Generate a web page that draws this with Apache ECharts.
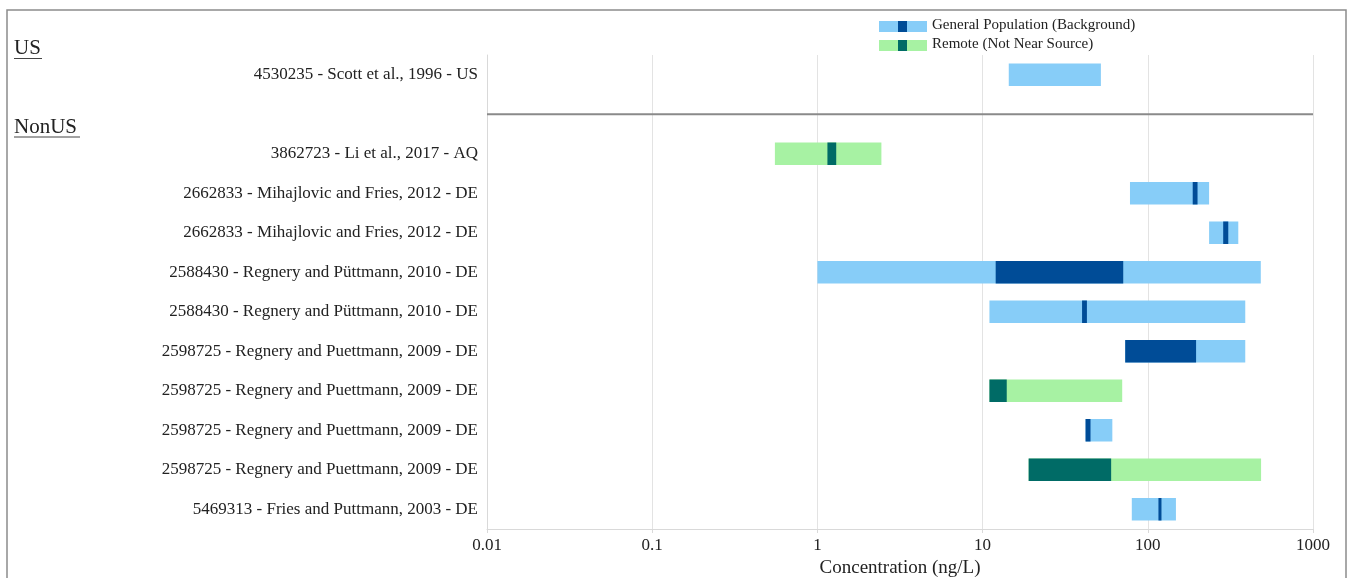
<!DOCTYPE html>
<html>
<head>
<meta charset="utf-8">
<style>
  html, body { margin: 0; padding: 0; background: #ffffff; }
  #chart { width: 1351px; height: 578px; }
</style>
<script src="https://cdn.jsdelivr.net/npm/echarts@6/dist/echarts.min.js"></script>
</head>
<body>
<div id="chart"></div>
<script>
// Study rows, top to bottom; the empty entry is the slot for the US / NonUS divider.
const studies = [
  '4530235 - Scott et al., 1996 - US',
  '',
  '3862723 - Li et al., 2017 - AQ',
  '2662833 - Mihajlovic and Fries, 2012 - DE',
  '2662833 - Mihajlovic and Fries, 2012 - DE',
  '2588430 - Regnery and Püttmann, 2010 - DE',
  '2588430 - Regnery and Püttmann, 2010 - DE',
  '2598725 - Regnery and Puettmann, 2009 - DE',
  '2598725 - Regnery and Puettmann, 2009 - DE',
  '2598725 - Regnery and Puettmann, 2009 - DE',
  '2598725 - Regnery and Puettmann, 2009 - DE',
  '5469313 - Fries and Puttmann, 2003 - DE'
];

// Population group of each row: 'general' or 'remote' (null for the divider slot)
const populations = [
  'general', null, 'remote', 'general', 'general', 'general',
  'general', 'general', 'remote', 'general', 'remote', 'general'
];

// Full reported range (ng/L)
const rangeMin = [14.4, null, 0.553, 78, 235, 1.0, 11.0, 73, 11.0, 42, 19.0, 80];
const rangeMax = [52, null, 2.44, 235, 353, 483, 389, 389, 70, 61, 485, 148];

// Central range / central value band (ng/L)
const centralMin = [null, null, 1.15, 187, 286, 12.0, 40.0, 73, 11.0, 42, 19.0, 116];
const centralMax = [null, null, 1.30, 200, 307, 71, 42.8, 196, 14.0, 45, 60, 121];

// Axis ticks
const tickValues = [0.01, 0.1, 1, 10, 100, 1000];
const tickLabels = ['0.01', '0.1', '1', '10', '100', '1000'];

const dividerIndex = 1;

const palette = {
  general: { light: '#87cdf8', dark: '#004c97' },
  remote:  { light: '#a7f2a3', dark: '#006b66' }
};

const serif = "'Liberation Serif', 'Times New Roman', serif";

const rows = [];
for (let i = 0; i < studies.length; i++) {
  if (populations[i] === null) continue;
  rows.push([i, rangeMin[i], rangeMax[i], centralMin[i], centralMax[i], populations[i]]);
}

function renderRange(params, api) {
  const idx = api.value(0);
  const group = rows[params.dataIndex][5];
  const colors = palette[group];
  const h = api.size([0, 1])[1] * 0.57;
  const p0 = api.coord([api.value(1), idx]);
  const p1 = api.coord([api.value(2), idx]);
  const children = [{
    type: 'rect',
    shape: { x: p0[0], y: p0[1] - h / 2, width: p1[0] - p0[0], height: h },
    style: { fill: colors.light }
  }];
  const cMin = rows[params.dataIndex][3];
  const cMax = rows[params.dataIndex][4];
  if (cMin != null && cMax != null) {
    const c0 = api.coord([cMin, idx]);
    const c1 = api.coord([cMax, idx]);
    children.push({
      type: 'rect',
      shape: { x: c0[0], y: c0[1] - h / 2, width: Math.max(c1[0] - c0[0], 3), height: h },
      style: { fill: colors.dark }
    });
  }
  return { type: 'group', children: children };
}

function renderDivider(params, api) {
  const cs = params.coordSys;
  const y = api.coord([1, api.value(0)])[1];
  return {
    type: 'line',
    shape: { x1: cs.x, y1: y, x2: cs.x + cs.width, y2: y },
    style: { stroke: '#8a8a8a', lineWidth: 2 }
  };
}

const chart = echarts.init(document.getElementById('chart'));

const legendItems = [
  { name: 'General Population (Background)', group: 'general', y: 21 },
  { name: 'Remote (Not Near Source)', group: 'remote', y: 40 }
];
const legendGraphics = [];
legendItems.forEach(function (it) {
  legendGraphics.push({
    type: 'rect', left: 879, top: it.y,
    shape: { width: 48, height: 11 },
    style: { fill: palette[it.group].light }
  });
  legendGraphics.push({
    type: 'rect', left: 898, top: it.y,
    shape: { width: 9, height: 11 },
    style: { fill: palette[it.group].dark }
  });
  legendGraphics.push({
    type: 'text', left: 932, top: it.y - 3,
    style: { text: it.name, font: '15px ' + serif, fill: '#222' }
  });
});

const headerGraphics = [
  { type: 'text', left: 14, top: 38, style: { text: 'US', font: '21px ' + serif, fill: '#222' } },
  { type: 'line', shape: { x1: 14, y1: 58.5, x2: 42, y2: 58.5 }, style: { stroke: '#444', lineWidth: 1 } },
  { type: 'text', left: 14, top: 117, style: { text: 'NonUS', font: '21px ' + serif, fill: '#222' } },
  { type: 'line', shape: { x1: 14, y1: 137, x2: 80, y2: 137 }, style: { stroke: '#444', lineWidth: 1 } }
];

chart.setOption({
  animation: false,
  backgroundColor: '#ffffff',
  grid: { left: 487, right: 38, top: 55, bottom: 49, containLabel: false, outerBoundsMode: 'none' },
  xAxis: {
    type: 'log',
    logBase: 10,
    min: tickValues[0],
    max: tickValues[tickValues.length - 1],
    name: 'Concentration (ng/L)',
    nameLocation: 'middle',
    nameGap: 28,
    nameTextStyle: { fontFamily: serif, fontSize: 19, color: '#222' },
    axisLine: { show: true, lineStyle: { color: '#d9d9d9', width: 1 } },
    axisTick: { show: true, length: 4, lineStyle: { color: '#d9d9d9' } },
    splitLine: { show: true, lineStyle: { color: '#e3e3e3', width: 1 } },
    axisLabel: {
      fontFamily: serif, fontSize: 17, color: '#222', margin: 8,
      formatter: function (v) {
        for (let i = 0; i < tickValues.length; i++) {
          if (Math.abs(Math.log10(v) - Math.log10(tickValues[i])) < 1e-6) return tickLabels[i];
        }
        return '';
      }
    }
  },
  yAxis: {
    type: 'category',
    inverse: true,
    data: studies,
    axisLine: { show: true, lineStyle: { color: '#d9d9d9', width: 1 } },
    axisTick: { show: false },
    splitLine: { show: false },
    axisLabel: { fontFamily: serif, fontSize: 17, color: '#222', margin: 9, interval: 0 }
  },
  graphic: [
    {
      type: 'rect', silent: true, z: -1,
      shape: { x: 7, y: 10, width: 1339, height: 580 },
      style: { fill: 'none', stroke: '#8c8c8c', lineWidth: 1.5 }
    }
  ].concat(headerGraphics, legendGraphics),
  series: [
    {
      type: 'custom',
      name: 'ranges',
      renderItem: renderRange,
      encode: { x: [1, 2], y: 0 },
      data: rows.map(function (r) { return [r[0], r[1], r[2]]; })
    },
    {
      type: 'custom',
      name: 'divider',
      renderItem: renderDivider,
      encode: { y: 0 },
      data: [[dividerIndex]]
    }
  ]
});
</script>
</body>
</html>
